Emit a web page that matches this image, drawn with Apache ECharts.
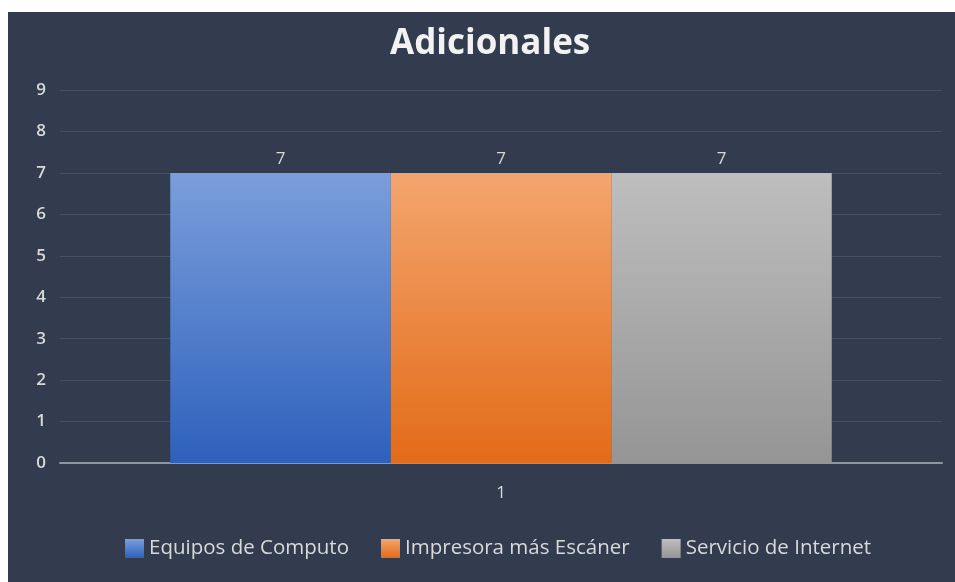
<!DOCTYPE html>
<html>
<head>
<meta charset="utf-8">
<script src="https://cdn.jsdelivr.net/npm/echarts@6/dist/echarts.min.js"></script>
<style>
  html, body { margin: 0; padding: 0; background: #ffffff; }
  #frame { position: absolute; left: 8px; top: 12px; width: 947px; height: 570px; background: #323c4e; }
  #main { position: absolute; left: 0; top: 0; width: 955px; height: 582px; }
</style>
</head>
<body>
<div id="frame"></div>
<div id="main"></div>
<script>
  // datos del gráfico
  const categories = ['1']
  const seriesNames = ['Equipos de Computo', 'Impresora más Escáner', 'Servicio de Internet']
  const seriesValues = [[7], [7], [7]]
  const yTicks = [0, 1, 2, 3, 4, 5, 6, 7, 8, 9]

  // degradados de cada barra (arriba -> abajo)
  const gradients = [
    ['#7b9edb', '#2e61bc'],
    ['#f4a56e', '#e26b18'],
    ['#bebebe', '#959595']
  ]

  const myChart = echarts.init(document.getElementById('main'))
  const textColor = '#d9d9d9'
  const font = '"Open Sans", "DejaVu Sans", sans-serif'

  let option = {
    backgroundColor: 'transparent',
    textStyle: { fontFamily: font },
    title: {
      text: 'Adicionales',
      left: 385,
      top: 22,
      textStyle: { color: '#f2f2f2', fontSize: 35, fontWeight: 'bold', fontFamily: font }
    },
    legend: {
      top: 533,
      left: 120,
      itemWidth: 19,
      itemHeight: 19,
      itemGap: 32,
      icon: 'rect',
      textStyle: { color: textColor, fontSize: 20.5, fontFamily: font },
      data: seriesNames
    },
    grid: { left: 60, right: 13, top: 90, bottom: 119 },
    xAxis: {
      type: 'category',
      data: categories,
      axisLine: { lineStyle: { color: '#8e96a3', width: 2 } },
      axisTick: { show: false },
      axisLabel: { color: textColor, fontSize: 17, margin: 22 }
    },
    yAxis: {
      type: 'value',
      min: yTicks[0],
      max: yTicks[yTicks.length - 1],
      interval: 1,
      axisLine: { show: false },
      axisTick: { show: false },
      axisLabel: { color: textColor, fontSize: 17, fontWeight: 600, margin: 14 },
      splitLine: { lineStyle: { color: '#465063', width: 1 } }
    },
    series: seriesNames.map((name, i) => ({
      name: name,
      type: 'bar',
      data: seriesValues[i],
      barGap: '0%',
      barCategoryGap: '25%',
      itemStyle: {
        color: new echarts.graphic.LinearGradient(0, 0, 0, 1, [
          { offset: 0, color: gradients[i][0] },
          { offset: 1, color: gradients[i][1] }
        ])
      },
      label: {
        show: true,
        position: 'top',
        distance: 5,
        color: textColor,
        fontSize: 17
      }
    }))
  }
  option && myChart.setOption(option)
  window.addEventListener('resize', () => {
    myChart.resize()
  })
</script>
</body>
</html>
